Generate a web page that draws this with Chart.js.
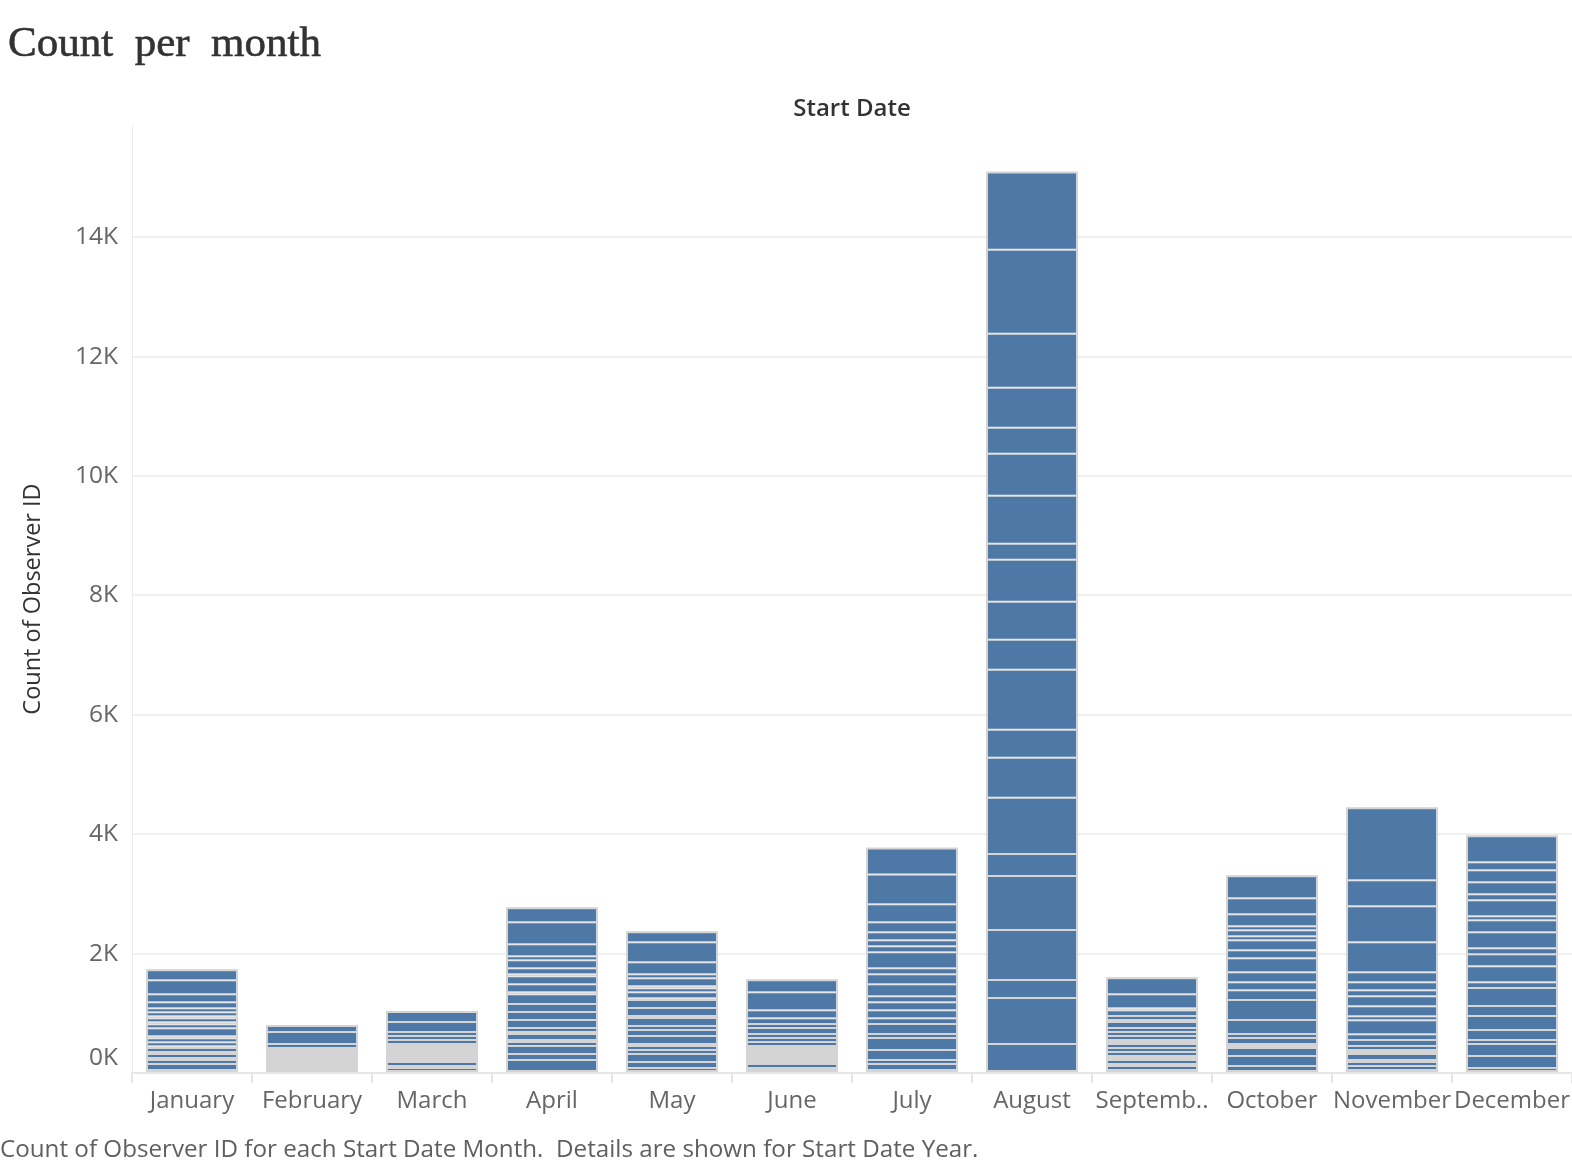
<!DOCTYPE html>
<html><head><meta charset="utf-8">
<script src="https://cdn.jsdelivr.net/npm/chart.js@4.4.1/dist/chart.umd.min.js"></script>
<style>
html,body{margin:0;padding:0;background:#fff;}
body{width:1572px;height:1166px;position:relative;overflow:hidden;font-family:"Open Sans",sans-serif;}
#wrap{position:absolute;left:0;top:0;width:1572px;height:1166px;}
.title{position:absolute;left:8px;top:20px;font-family:"Liberation Serif",serif;font-size:43px;line-height:43px;color:#333;white-space:pre;-webkit-text-stroke:0.6px #333;}
.header{position:absolute;left:132px;width:1440px;top:95px;text-align:center;font-size:24px;line-height:24px;font-weight:600;color:#333;}
.caption{position:absolute;left:0;top:1136px;font-size:24.2px;line-height:24px;color:#5f5f5f;white-space:pre;}
</style></head><body>
<div id="wrap"><canvas id="c" width="1572" height="1166"></canvas></div>
<div class="title">Count  per  month</div>
<div class="header">Start Date</div>
<div class="caption">Count of Observer ID for each Start Date Month.  Details are shown for Start Date Year.</div>
<script>
// ---- data ----
const months = ['January','February','March','April','May','June','July','August','September','October','November','December'];
const tickLabels = ['January','February','March','April','May','June','July','August','Septemb..','October','November','December'];
const yTicks = [0,2000,4000,6000,8000,10000,12000,14000];
const yMax = 15880;

// Count of Observer ID per Start Date Year (stacked bottom-up), per month; selected = 1 (coloured) / 0 (grey)
const janCounts = [50,100,67,33,67,33,67,33,67,67,33,134,67,33,67,33,67,67,100,134,234,184];
const janSelected = [1,1,1,0,1,0,1,0,1,1,0,1,1,0,1,0,1,1,1,1,1,1];
const febCounts = [419,67,201,117];
const febSelected = [0,1,1,1];
const marCounts = [84,33,67,301,67,67,67,167,184];
const marSelected = [1,0,1,0,1,1,1,1,1];
const aprCounts = [218,100,134,67,33,100,33,67,134,134,134,167,33,134,134,33,100,134,67,201,368,251];
const aprSelected = [1,1,1,1,0,1,0,1,1,1,1,1,0,1,1,0,1,1,1,1,1,1];
const mayCounts = [84,100,134,67,67,33,134,100,67,134,33,134,134,33,100,67,33,134,67,201,335,184];
const maySelected = [1,1,1,1,1,0,1,1,1,1,0,1,1,0,1,1,0,1,1,1,1,1];
const junCounts = [50,33,67,301,67,67,67,100,67,100,134,301,218];
const junSelected = [1,0,1,0,1,1,1,1,1,1,1,1,1];
const julCounts = [50,100,67,167,201,67,167,100,134,134,100,201,167,100,268,100,100,134,167,301,502,452];
const julSelected = [1,1,1,1,1,1,1,1,1,1,1,1,1,1,1,1,1,1,1,1,1,1];
const augCounts = [486,770,302,837,905,368,943,670,469,1005,503,636,704,268,804,703,436,670,904,1407,1310];
const augSelected = [1,1,1,1,1,1,1,1,1,1,1,1,1,1,1,1,1,1,1,1,1];
const sepCounts = [50,67,33,67,67,67,67,67,67,67,67,67,100,33,67,100,33,234,285];
const sepSelected = [1,1,0,1,0,1,1,1,0,1,1,1,1,0,1,1,0,1,1];
const octCounts = [117,167,134,67,100,67,234,335,167,134,167,234,134,167,67,100,67,201,268,385];
const octSelected = [1,1,1,0,1,1,1,1,1,1,1,1,1,1,1,1,1,1,1,1];
const novCounts = [50,67,67,33,100,67,67,100,100,234,67,167,167,100,134,167,502,603,435,1223];
const novSelected = [1,1,1,0,1,0,1,1,1,1,1,1,1,1,1,1,1,1,1,1];
const decCounts = [84,201,201,67,167,234,167,301,100,268,201,100,268,201,67,268,100,201,201,134,452];
const decSelected = [1,1,1,1,1,1,1,1,1,1,1,1,1,1,1,1,1,1,1,1,1];

const monthCounts = [janCounts,febCounts,marCounts,aprCounts,mayCounts,junCounts,julCounts,augCounts,sepCounts,octCounts,novCounts,decCounts];
const monthSelected = [janSelected,febSelected,marSelected,aprSelected,maySelected,junSelected,julSelected,augSelected,sepSelected,octSelected,novSelected,decSelected];

// ---- styles ----
const BLUE = '#4e79a7';
const GRAY = '#d4d4d4';
const BAR_PCT = 0.767;
const FONT = 'Open Sans';

const maxSeg = Math.max(...monthCounts.map(a => a.length));
const datasets = [];
for (let k = 0; k < maxSeg; k++) {
  datasets.push({
    label: 'segment ' + k,
    data: monthCounts.map(a => k < a.length ? a[k] : null),
    backgroundColor: monthSelected.map(a => a[k] ? BLUE : GRAY),
    borderColor: GRAY,
    borderWidth: 1,
    borderSkipped: false,
    inflateAmount: 0,
    stack: 'years',
    barPercentage: BAR_PCT,
    categoryPercentage: 1
  });
}
const totals = monthCounts.map(a => a.reduce((s, v) => s + v, 0));
datasets.push({
  label: 'outline',
  data: totals,
  stack: 'outline',
  grouped: false,
  order: -1,
  backgroundColor: 'rgba(0,0,0,0)',
  borderColor: GRAY,
  borderWidth: 2,
  borderSkipped: false,
  inflateAmount: 0,
  barPercentage: BAR_PCT,
  categoryPercentage: 1
});

const shiftZeroLabel = {
  id: 'shiftZeroLabel',
  beforeDraw(chart) {
    const s = chart.scales.y;
    const items = s.getLabelItems(chart.chartArea);
    items.forEach((it, i) => {
      if (s.ticks[i] && s.ticks[i].value === 0 && !it._shifted) {
        it.options.translation[1] -= 15;
        it._shifted = true;
      }
    });
  }
};

new Chart(document.getElementById('c'), {
  type: 'bar',
  data: { labels: months, datasets },
  plugins: [shiftZeroLabel],
  options: {
    responsive: false,
    animation: false,
    layout: { padding: { top: 125, left: 0, right: 0, bottom: 0 } },
    plugins: { legend: { display: false }, tooltip: { enabled: false }, title: { display: false } },
    scales: {
      x: {
        offset: true,
        grid: { offset: true, drawOnChartArea: false, drawTicks: true, tickLength: 10, color: '#e6e6e6', lineWidth: 2 },
        border: { display: true, color: '#e6e6e6', width: 2 },
        ticks: { font: { family: FONT, size: 24 }, color: '#666', padding: 4, autoSkip: false, maxRotation: 0,
                 callback: (v, i) => tickLabels[i] },
        afterFit: s => { s.height = 93; s.paddingLeft = 0; s.paddingRight = 0; }
      },
      y: {
        stacked: true,
        min: 0,
        max: yMax,
        afterBuildTicks: s => { s.ticks = yTicks.map(v => ({ value: v })); },
        grid: { color: '#f0f0f0', lineWidth: 2, drawTicks: false },
        border: { display: true, color: '#ebebeb', width: 1 },
        ticks: { font: { family: FONT, size: 24.5 }, color: '#666', padding: 14, callback: v => (v / 1000) + 'K' },
        title: { display: true, text: 'Count of Observer ID', font: { family: FONT, size: 23.5, weight: 500 }, color: '#333', padding: { top: 19, bottom: 0 } },
        afterFit: s => { s.width = 132; }
      }
    }
  }
});
</script>
</body></html>
